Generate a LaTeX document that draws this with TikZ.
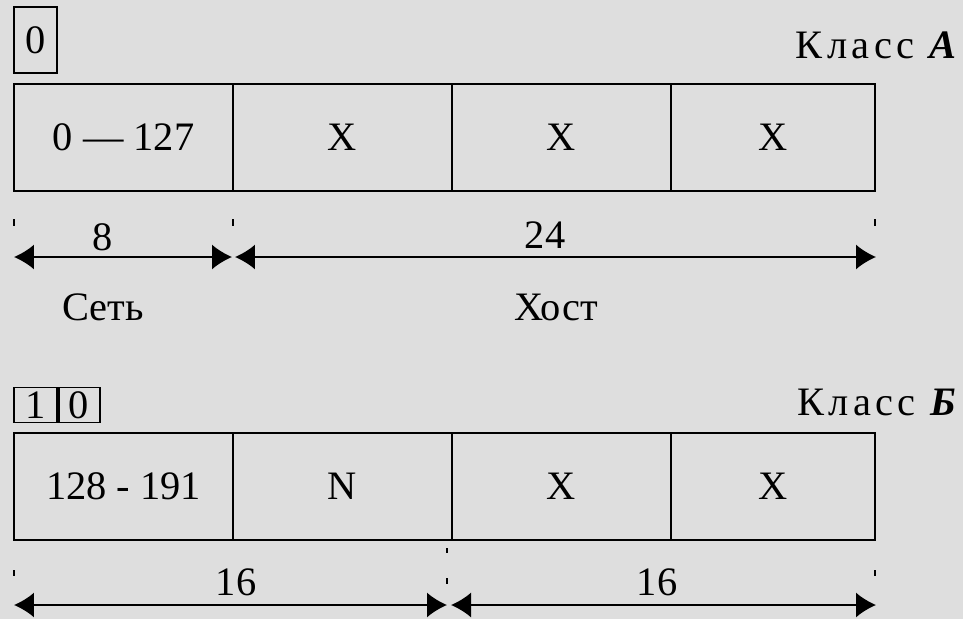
\documentclass[tikz,border=0pt]{standalone}
\usepackage{fontspec}
\setmainfont{Liberation Serif}
\usetikzlibrary{positioning,arrows.meta}
\definecolor{paper}{HTML}{DEDEDE}
\tikzset{cell/.style={draw,line width=1.1pt,minimum width=4.38cm,minimum height=2.14cm,inner sep=0pt,outer sep=0pt,font=\fontsize{23}{26}\selectfont},
bitbox/.style={draw,line width=1.1pt,inner sep=0pt,outer sep=0pt,minimum width=0.86cm,font=\fontsize{23}{26}\selectfont},
dim/.style={{Latex[length=0.4cm,width=0.5cm]}-{Latex[length=0.4cm,width=0.5cm]},line width=1pt},
tick/.style={line width=1.1pt},
lbl/.style={font=\fontsize{23}{26}\selectfont,inner sep=0pt}}
\newcommand{\klass}[1]{К\kern2.5pt л\kern2.5pt а\kern2.5pt с\kern2.5pt с~\kern3pt{\bfseries\itshape #1}}

\begin{document}
\begin{tikzpicture}[x=0.02cm,y=-0.02cm]
\fill[paper] (0,0) rectangle (963,619);
\useasboundingbox (0,0) rectangle (963,619);
% class A
\node[bitbox,minimum height=1.32cm] (abit) at (35.5,40) {0};
\node[lbl,anchor=east] (aname) at (957,45) {\klass{A}};
\node[cell] (a1) at (123.5,137.5) {0 — 127};
\node[cell,right=0pt of a1] (a2) {X};
\node[cell,right=0pt of a2] (a3) {X};
\node[cell,right=0pt of a3,minimum width=4.08cm] (a4) {X};
\foreach \x in {14,233,875}\draw[tick] (\x,219)--(\x,226);
\coordinate (ad0) at (14,257); \coordinate (ad1) at (232,257);
\coordinate (ad2) at (235,257); \coordinate (ad3) at (876,257);
\draw[dim] (ad0)--(ad1); \draw[dim] (ad2)--(ad3);
\node[lbl] (a8) at (103,237) {8};
\node[lbl] (a24) at (545,235) {24};
\node[lbl] (anet) at (103,307) {Сеть};
\node[lbl] (ahost) at (556,307) {Хост};
% class B
\node[bitbox,minimum height=0.7cm,minimum width=0.88cm] (bbit1) at (36,405) {1};
\node[bitbox,minimum height=0.7cm,minimum width=0.84cm,right=0pt of bbit1] (bbit2) {0};
\draw[line width=2.6pt] (bbit1.north east)--(bbit1.south east);
\node[lbl,anchor=east] (bname) at (957,402) {\klass{Б}};
\node[cell] (b1) at (123.5,486.5) {128 - 191};
\node[cell,right=0pt of b1] (b2) {N};
\node[cell,right=0pt of b2] (b3) {X};
\node[cell,right=0pt of b3,minimum width=4.08cm] (b4) {X};
\foreach \x in {14,875}\draw[tick] (\x,570)--(\x,576);
\draw[tick] (447,548)--(447,553); \draw[tick] (447,578)--(447,584);
\coordinate (bd0) at (14,605); \coordinate (bd1) at (447,605);
\coordinate (bd2) at (451,605); \coordinate (bd3) at (876,605);
\draw[dim] (bd0)--(bd1); \draw[dim] (bd2)--(bd3);
\node[lbl] (b16l) at (236,582) {16};
\node[lbl] (b16r) at (657,582) {16};
\end{tikzpicture}
\end{document}
